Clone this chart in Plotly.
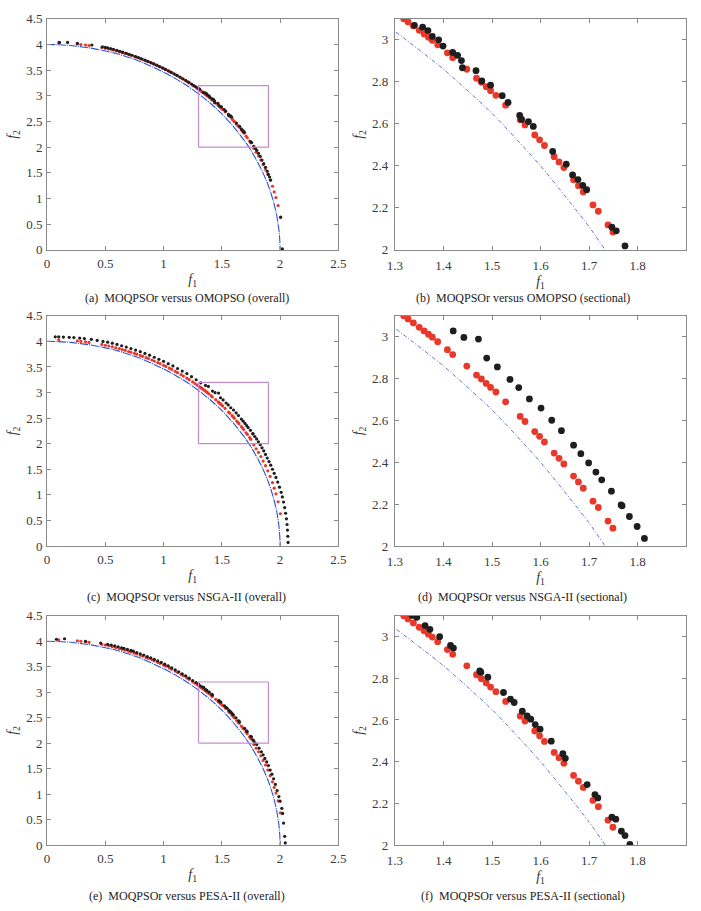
import plotly.graph_objects as go

# ---------------- data ----------------
# True Pareto front (blue dash-dot curve)
pf_f1 = [0.0, 0.1, 0.2, 0.4, 0.6, 0.8, 1.0, 1.1, 1.2, 1.3, 1.4, 1.5, 1.6, 1.7, 1.75, 1.8,
         1.85, 1.9, 1.94, 1.97, 1.99, 1.998, 2.0]
pf_f2 = [4.0, 3.995, 3.98, 3.92, 3.82, 3.67, 3.46, 3.34, 3.2, 3.04, 2.86, 2.65, 2.4, 2.11, 1.94, 1.74,
         1.52, 1.25, 0.97, 0.69, 0.40, 0.18, 0.0]

# MOQPSOr (red)
moq_f1 = [0.10, 0.26, 0.29, 0.33, 0.36, 0.47, 0.50, 0.53, 0.56, 0.59, 0.62, 0.645, 0.67, 0.70, 0.72,
          0.75, 0.77, 0.80, 0.82, 0.85, 0.87, 0.90, 0.92, 0.95, 0.97, 1.00, 1.02, 1.05, 1.07, 1.10,
          1.12, 1.15, 1.17, 1.20, 1.22, 1.25, 1.27, 1.29, 1.305,
          1.318, 1.327, 1.338, 1.35, 1.36, 1.369, 1.377, 1.388, 1.408, 1.419, 1.448, 1.468, 1.478,
          1.488, 1.497, 1.508, 1.528, 1.558, 1.568, 1.588, 1.598, 1.608, 1.628, 1.638, 1.648, 1.668,
          1.678, 1.688, 1.708, 1.719, 1.739, 1.749,
          1.775, 1.795, 1.815, 1.835, 1.855, 1.875, 1.895, 1.915, 1.935, 1.95, 1.965, 1.983, 2.003]
moq_f2 = [4.03, 4.01, 4.00, 3.99, 3.98, 3.94, 3.925, 3.91, 3.893, 3.876, 3.857, 3.841, 3.825, 3.803, 3.788,
          3.766, 3.750, 3.726, 3.709, 3.682, 3.664, 3.636, 3.616, 3.586, 3.565, 3.533, 3.511, 3.476, 3.452, 3.415,
          3.389, 3.350, 3.323, 3.281, 3.252, 3.207, 3.177, 3.145, 3.121,
          3.100, 3.085, 3.066, 3.045, 3.028, 3.012, 2.998, 2.976, 2.938, 2.915, 2.860, 2.817, 2.798,
          2.777, 2.758, 2.736, 2.689, 2.619, 2.595, 2.547, 2.524, 2.497, 2.444, 2.419, 2.392, 2.334,
          2.306, 2.276, 2.214, 2.184, 2.119, 2.085,
          1.975, 1.90, 1.83, 1.75, 1.66, 1.57, 1.47, 1.36, 1.24, 1.13, 1.02, 0.865, 0.63]

# OMOPSO (black, panels a/b)
omo_f1 = [0.106, 0.176, 0.26, 0.385, 0.475, 0.50, 0.52, 0.545, 0.57, 0.60, 0.625, 0.65, 0.68, 0.705,
          0.73, 0.76, 0.785, 0.81, 0.84, 0.865, 0.89, 0.915, 0.94, 0.965, 0.99, 1.015, 1.04, 1.065,
          1.09, 1.115, 1.14, 1.165, 1.19, 1.215, 1.24, 1.26, 1.28, 1.30, 1.31,
          1.340, 1.357, 1.368, 1.377, 1.390, 1.399, 1.419, 1.429, 1.437, 1.439, 1.467, 1.479, 1.497,
          1.521, 1.533, 1.557, 1.561, 1.575, 1.585, 1.625, 1.653, 1.666, 1.677, 1.687, 1.695, 1.747,
          1.756, 1.774,
          1.79, 1.80, 1.815, 1.83, 1.845, 1.86, 1.875, 1.89, 1.90, 1.91, 1.92, 2.006, 2.02]
omo_f2 = [4.04, 4.04, 4.02, 3.99, 3.955, 3.945, 3.935, 3.92, 3.905, 3.885, 3.868, 3.85, 3.828, 3.81,
          3.79, 3.765, 3.745, 3.722, 3.695, 3.672, 3.648, 3.623, 3.597, 3.57, 3.543, 3.515, 3.487, 3.457,
          3.428, 3.397, 3.365, 3.333, 3.30, 3.266, 3.231, 3.20, 3.17, 3.14, 3.13,
          3.069, 3.060, 3.044, 3.016, 3.000, 2.970, 2.940, 2.926, 2.901, 2.867, 2.853, 2.804, 2.784,
          2.734, 2.702, 2.640, 2.621, 2.611, 2.588, 2.469, 2.408, 2.357, 2.335, 2.307, 2.287, 2.108,
          2.091, 2.019,
          1.975, 1.94, 1.88, 1.82, 1.75, 1.68, 1.61, 1.53, 1.47, 1.42, 1.36, 0.64, 0.02]

# NSGA-II (black, panels c/d)
nsga_f1 = [0.07, 0.10, 0.14, 0.19, 0.23, 0.28, 0.32, 0.38, 0.43, 0.48, 0.52, 0.56, 0.60, 0.64, 0.68,
           0.72, 0.76, 0.80, 0.84, 0.88, 0.92, 0.96, 1.00, 1.04, 1.08, 1.12, 1.16, 1.20, 1.24, 1.28,
           1.32, 1.36, 1.385,
           1.420, 1.442, 1.472, 1.489, 1.511, 1.537, 1.555, 1.577, 1.601, 1.623, 1.643, 1.668, 1.683,
           1.699, 1.714, 1.726, 1.746, 1.766, 1.768, 1.783, 1.799, 1.814,
           1.83, 1.845, 1.86, 1.875, 1.89, 1.905, 1.92, 1.935, 1.95, 1.965, 1.98, 1.995, 2.01, 2.02,
           2.03, 2.04, 2.048, 2.055, 2.06, 2.064, 2.067, 2.069]
nsga_f2 = [4.09, 4.09, 4.085, 4.08, 4.075, 4.065, 4.055, 4.04, 4.02, 4.0, 3.985, 3.965, 3.94, 3.915, 3.89,
           3.86, 3.83, 3.80, 3.765, 3.73, 3.69, 3.65, 3.61, 3.565, 3.52, 3.47, 3.42, 3.37, 3.31, 3.25,
           3.19, 3.14, 3.12,
           3.028, 2.997, 2.989, 2.898, 2.856, 2.796, 2.757, 2.703, 2.659, 2.601, 2.551, 2.482, 2.441,
           2.397, 2.353, 2.316, 2.262, 2.196, 2.192, 2.141, 2.093, 2.036,
           1.98, 1.92, 1.86, 1.79, 1.72, 1.65, 1.58, 1.50, 1.42, 1.34, 1.25, 1.15, 1.05, 0.96,
           0.86, 0.75, 0.64, 0.53, 0.42, 0.31, 0.19, 0.07]

# PESA-II (black, panels e/f)
pesa_f1 = [0.08, 0.15, 0.33, 0.46, 0.52, 0.55, 0.58, 0.61, 0.64, 0.66, 0.69, 0.72, 0.74, 0.77, 0.80,
           0.83, 0.86, 0.89, 0.92, 0.95, 0.98, 1.01, 1.04, 1.07, 1.10, 1.13, 1.16, 1.19, 1.22, 1.25,
           1.28, 1.30, 1.315,
           1.3355, 1.345, 1.362, 1.372, 1.392, 1.4145, 1.4205, 1.4747, 1.477, 1.4914, 1.5236, 1.538,
           1.5456, 1.5624, 1.5724, 1.5798, 1.589, 1.599, 1.622, 1.646, 1.651, 1.696, 1.712, 1.718,
           1.747, 1.755, 1.7665, 1.774, 1.784,
           1.80, 1.82, 1.84, 1.855, 1.87, 1.885, 1.90, 1.915, 1.93, 1.945, 1.96, 1.975, 1.99, 2.00,
           2.015, 2.022, 2.03, 2.04, 2.045]
pesa_f2 = [4.04, 4.05, 4.00, 3.965, 3.94, 3.925, 3.91, 3.89, 3.872, 3.86, 3.84, 3.82, 3.805, 3.78, 3.755,
           3.73, 3.70, 3.675, 3.645, 3.615, 3.585, 3.55, 3.515, 3.48, 3.44, 3.40, 3.36, 3.32, 3.275, 3.23,
           3.19, 3.16, 3.125,
           3.102, 3.093, 3.053, 3.035, 3.000, 2.958, 2.945, 2.835, 2.829, 2.805, 2.732, 2.700,
           2.684, 2.642, 2.619, 2.604, 2.578, 2.556, 2.498, 2.438, 2.416, 2.290, 2.242, 2.226,
           2.133, 2.124, 2.066, 2.045, 2.003,
           1.975, 1.90, 1.83, 1.77, 1.70, 1.63, 1.56, 1.47, 1.39, 1.30, 1.19, 1.07, 0.95, 0.86,
           0.72, 0.62, 0.43, 0.17, 0.04]

# zoom box drawn in the overall panels (f1 range, f2 range)
box_f1 = [1.3, 1.9, 1.9, 1.3, 1.3]
box_f2 = [2.0, 2.0, 3.2, 3.2, 2.0]

captions = ["(a)\u00a0\u00a0MOQPSOr versus OMOPSO (overall)",
            "(b)\u00a0\u00a0MOQPSOr versus OMOPSO (sectional)",
            "(c)\u00a0\u00a0MOQPSOr versus NSGA-II (overall)",
            "(d)\u00a0\u00a0MOQPSOr versus NSGA-II (sectional)",
            "(e)\u00a0\u00a0MOQPSOr versus PESA-II (overall)",
            "(f)\u00a0\u00a0MOQPSOr versus PESA-II (sectional)"]

# ---------------- figure ----------------
W, H = 701, 911
FONT = "Liberation Serif"
RED = "#e8382a"
BLACK = "#1e1e1e"
BLUE_O = "rgb(40,85,215)"
BLUE_S = "rgb(85,100,205)"
BOXC = "#c68bd2"

col_x = [(40, 338), (396, 694)]
row_y = [(12, 247), (314, 548), (619, 852)]
cap_y = [296, 600, 904]
cap_x = [183, 527]

comps = [(omo_f1, omo_f2), (nsga_f1, nsga_f2), (pesa_f1, pesa_f2)]

fig = go.Figure()
layout = dict(width=W, height=H, margin=dict(l=0, r=0, t=0, b=0),
              paper_bgcolor="white", plot_bgcolor="white", showlegend=False,
              font=dict(family=FONT, size=13, color="#333"))
annotations = []

k = 0
for r in range(3):
    for c in range(2):
        k += 1
        xa = "x" if k == 1 else f"x{k}"
        ya = "y" if k == 1 else f"y{k}"
        overall = (c == 0)
        msize = 3.2 if overall else 6.8
        bf1, bf2 = comps[r]
        # true front
        fig.add_trace(go.Scatter(x=pf_f1, y=pf_f2, mode="lines", xaxis=xa, yaxis=ya,
                                 line=dict(color=BLUE_O if overall else BLUE_S,
                                           width=1.1 if overall else 0.9,
                                           dash="8px,1px,1px,1px" if overall else "4px,2px,1px,2px",
                                           shape="spline", smoothing=0.6)))
        fig.add_trace(go.Scatter(x=moq_f1, y=moq_f2, mode="markers", xaxis=xa, yaxis=ya,
                                 marker=dict(color=RED, size=msize, line=dict(width=0))))
        fig.add_trace(go.Scatter(x=bf1, y=bf2, mode="markers", xaxis=xa, yaxis=ya,
                                 marker=dict(color=BLACK, size=msize, line=dict(width=0))))
        if overall:
            fig.add_trace(go.Scatter(x=box_f1, y=box_f2, mode="lines", xaxis=xa, yaxis=ya,
                                     line=dict(color=BOXC, width=1.2)))
        x0, x1 = col_x[c]
        y0, y1 = row_y[r]
        common = dict(showline=True, linecolor="#8a8a8a", linewidth=1, mirror="ticks",
                      ticks="inside", ticklen=4, tickcolor="#8a8a8a", showgrid=False,
                      zeroline=False, tickfont=dict(family=FONT, size=13, color="#3a3a3a"))
        xkey = "xaxis" if k == 1 else f"xaxis{k}"
        ykey = "yaxis" if k == 1 else f"yaxis{k}"
        if overall:
            xr, xd, xt0 = [0, 2.5], 0.5, 0
            yr, yd, yt0 = [0, 4.5], 0.5, 0
        else:
            xr, xd, xt0 = [1.3, 1.9], 0.1, 1.3
            yr, yd, yt0 = [2.0, 3.1], 0.2, 2.0
        layout[xkey] = dict(domain=[x0 / W, x1 / W], range=xr, dtick=xd, tick0=xt0,
                            anchor=ya, ticklabelstandoff=1 if overall else 3,
                            title=dict(text="<i>f</i><sub>1</sub>", standoff=4,
                                       font=dict(family=FONT, size=14, color="#333")),
                            **common)
        if not overall:
            layout[xkey]["tickvals"] = [1.3, 1.4, 1.5, 1.6, 1.7, 1.8]
            layout[xkey]["ticktext"] = ["1.3", "1.4", "1.5", "1.6", "1.7", "1.8"]
        layout[ykey] = dict(domain=[1 - y1 / H, 1 - y0 / H], range=yr, dtick=yd, tick0=yt0,
                            anchor=xa, ticklabelstandoff=1 if overall else 3,
                            title=dict(text="<i>f</i><sub>2</sub>", standoff=5,
                                       font=dict(family=FONT, size=14, color="#333")),
                            **common)
        annotations.append(dict(text=captions[k - 1], xref="paper", yref="paper",
                                x=cap_x[c] / W, y=1 - cap_y[r] / H, xanchor="center",
                                yanchor="middle", showarrow=False,
                                font=dict(family=FONT, size=12, color="#222")))

layout["annotations"] = annotations
fig.update_layout(**layout)
fig.write_html("out.html")
